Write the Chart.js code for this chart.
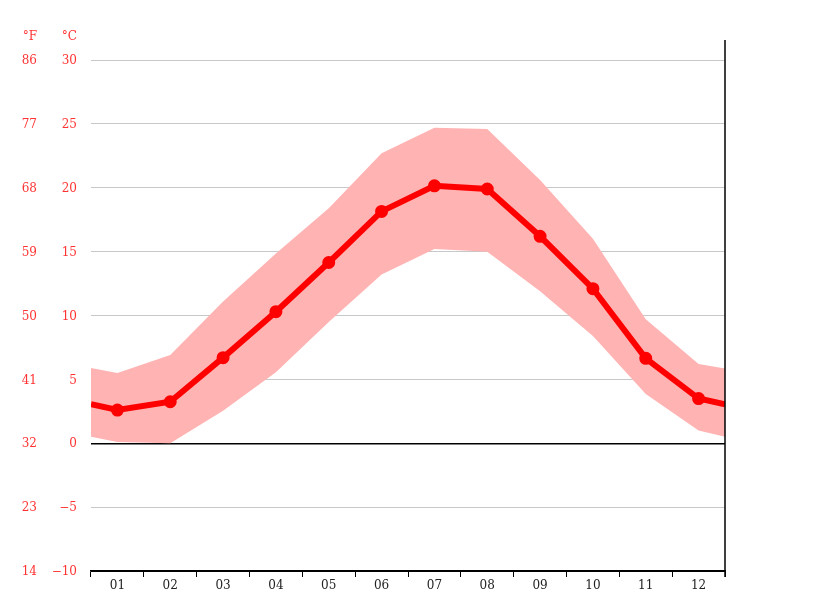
<!DOCTYPE html>
<html>
<head>
<meta charset="utf-8">
<script src="https://cdn.jsdelivr.net/npm/chart.js@4"></script>
<style>
  html, body { margin: 0; padding: 0; background: #fff; }
  #wrap { width: 815px; height: 611px; }
</style>
</head>
<body>
<div id="wrap"><canvas id="c"></canvas></div>
<script>
// months on the x axis
const months = ['01', '02', '03', '04', '05', '06', '07', '08', '09', '10', '11', '12'];

// mean temperature per month, °C
const meanC = [2.6, 3.25, 6.7, 10.3, 14.15, 18.15, 20.15, 19.9, 16.2, 12.1, 6.65, 3.5];
// daily max / min band, °C
const highC = [5.5, 6.9, 11.1, 14.85, 18.4, 22.7, 24.7, 24.6, 20.6, 16.0, 9.7, 6.2];
const lowC = [0.1, 0.0, 2.55, 5.55, 9.5, 13.2, 15.2, 15.0, 11.9, 8.4, 3.85, 1.0];

// values where the curves meet the left and right edge of the plot
const meanEdge = [3.05, 3.05];
const highEdge = [5.9, 5.85];
const lowEdge = [0.5, 0.5];

// tick values of the two temperature scales
const ticksC = [-10, -5, 0, 5, 10, 15, 20, 25, 30];
const ticksF = [14, 23, 32, 41, 50, 59, 68, 77, 86];

function withEdges(vals, edge) {
  const pts = [{ x: 0, y: edge[0] }];
  vals.forEach((v, i) => pts.push({ x: i + 0.5, y: v }));
  pts.push({ x: months.length, y: edge[1] });
  return pts;
}

const RED = '#ff3333';
Chart.defaults.font.family = "'DejaVu Serif', serif";
Chart.defaults.font.size = 12;

const headers = {
  id: 'headers',
  afterDraw(chart) {
    const { ctx, chartArea, scales } = chart;
    ctx.save();
    ctx.fillStyle = RED;
    ctx.font = "12px 'DejaVu Serif', serif";
    ctx.textAlign = 'right';
    ctx.textBaseline = 'middle';
    ctx.fillText('°F', scales.yF.right - 8, 37);
    ctx.fillText('°C', scales.y.right - 14, 37);
    // right frame line, runs above the plot
    ctx.strokeStyle = '#000';
    ctx.lineWidth = 1.5;
    ctx.beginPath();
    ctx.moveTo(chartArea.right, chartArea.top - 20);
    ctx.lineTo(chartArea.right, chartArea.bottom + 6);
    ctx.stroke();
    ctx.restore();
  }
};

const pointSize = ctx => (ctx.dataIndex === 0 || ctx.dataIndex === months.length + 1) ? 0 : 3.5;

new Chart(document.getElementById('c'), {
  type: 'line',
  data: {
    datasets: [
      {
        data: withEdges(meanC, meanEdge),
        xAxisID: 'xl',
        borderColor: '#ff0000',
        backgroundColor: '#ff0000',
        borderWidth: 6,
        pointRadius: pointSize,
        pointHoverRadius: pointSize,
        tension: 0,
        fill: false
      },
      {
        data: withEdges(highC, highEdge),
        xAxisID: 'xl',
        borderWidth: 0,
        pointRadius: 0,
        backgroundColor: '#ffb3b3',
        fill: '+1',
        tension: 0
      },
      {
        data: withEdges(lowC, lowEdge),
        xAxisID: 'xl',
        borderWidth: 0,
        pointRadius: 0,
        fill: false,
        tension: 0
      }
    ]
  },
  options: {
    responsive: true,
    maintainAspectRatio: false,
    animation: false,
    layout: { padding: { top: 60, right: 90, left: 0, bottom: 0 } },
    plugins: { legend: { display: false }, tooltip: { enabled: false } },
    scales: {
      xl: {
        type: 'linear',
        min: 0,
        max: months.length,
        display: false
      },
      x: {
        type: 'category',
        labels: months,
        offset: true,
        afterFit: s => { s.height = 40; },
        grid: {
          offset: true,
          drawOnChartArea: false,
          drawTicks: true,
          tickLength: 6,
          color: '#000'
        },
        border: { display: true, color: '#000', width: 1.5 },
        ticks: { color: '#222', padding: 2, maxRotation: 0 }
      },
      y: {
        type: 'linear',
        position: 'left',
        weight: 0,
        min: -10,
        max: 30,
        afterBuildTicks: s => { s.ticks = ticksC.map(v => ({ value: v })); },
        afterFit: s => { s.width = 46; },
        grid: {
          drawTicks: false,
          color: c => c.tick.value === 0 || c.tick.value === -10 ? '#000' : '#c8c8c8',
          lineWidth: c => c.tick.value === 0 ? 1.5 : 1
        },
        border: { display: false },
        ticks: {
          color: RED,
          padding: 14,
          labelOffset: 1,
          callback: v => String(v).replace('-', '\u2212')
        }
      },
      yF: {
        type: 'linear',
        position: 'left',
        weight: 1,
        min: 14,
        max: 86,
        afterBuildTicks: s => { s.ticks = ticksF.map(v => ({ value: v })); },
        afterFit: s => { s.width = 45; },
        grid: { display: false, drawTicks: false },
        border: { display: false },
        ticks: { color: RED, padding: 8, labelOffset: 1 }
      }
    }
  },
  plugins: [headers]
});
</script>
</body>
</html>
